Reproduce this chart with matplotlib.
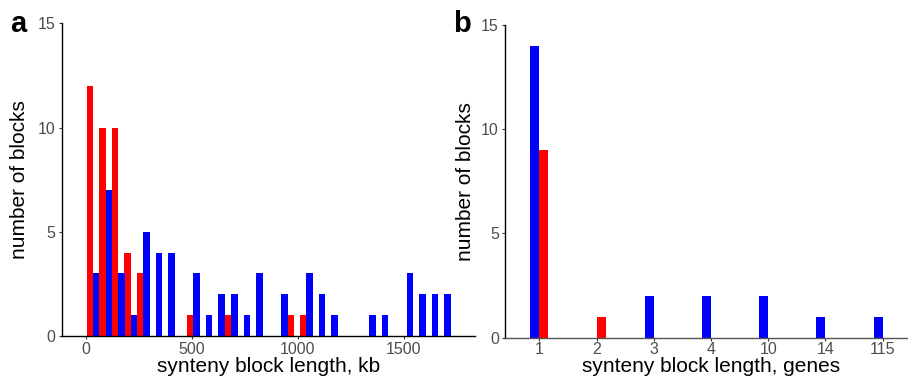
import matplotlib
matplotlib.use("Agg")
import matplotlib.pyplot as plt
import numpy as np

plt.rcParams['font.family'] = ['Liberation Sans', 'DejaVu Sans']

# ---- Panel a data (histogram bins, kb) ----
bin_centers_kb = [31.7, 91.0, 150.3, 209.6, 268.9, 328.2, 387.5, 446.8, 506.1, 565.4,
                  624.7, 684.0, 743.3, 802.6, 861.9, 921.2, 980.5, 1039.8, 1099.1, 1158.4,
                  1217.7, 1277.0, 1336.3, 1395.6, 1454.9, 1514.2, 1573.5, 1632.8, 1692.1]
bin_width_kb = 59.3
red_counts_a = [12, 10, 10, 4, 3, 0, 0, 0, 1, 0, 0, 1, 0, 0, 0, 0, 1, 1, 0, 0, 0, 0, 0, 0, 0, 0, 0, 0, 0]
blue_counts_a = [3, 7, 3, 1, 5, 4, 4, 0, 3, 1, 2, 2, 1, 3, 0, 2, 0, 3, 2, 1, 0, 0, 1, 1, 0, 3, 2, 2, 2]
xticks_a = [0, 500, 1000, 1500]
yticks = [0, 5, 10, 15]

# ---- Panel b data (genes) ----
categories_b = ['1', '2', '3', '4', '10', '14', '115']
blue_counts_b = [14, 0, 2, 2, 2, 1, 1]
red_counts_b = [9, 1, 0, 0, 0, 0, 0]

RED = '#FF0000'
BLUE = '#0000FF'
TICK_GRAY = '#4D4D4D'

W, H = 908, 378
fig = plt.figure(figsize=(W / 100, H / 100), dpi=100)

def fig_rect(x0, y0, x1, y1):
    return [x0 / W, 1 - y1 / H, (x1 - x0) / W, (y1 - y0) / H]

# Panel a
axa = fig.add_axes(fig_rect(61.7, 23.3, 475, 336))
half = bin_width_kb / 2
xc = np.array(bin_centers_kb)
axa.bar(xc - half, red_counts_a, width=half * 1.04, align='edge', color=RED, linewidth=0)
axa.bar(xc, blue_counts_a, width=half * 1.04, align='edge', color=BLUE, linewidth=0)
axa.set_xlim(-116, 1837)
axa.set_ylim(0, 15)
axa.set_xticks(xticks_a)
axa.set_yticks(yticks)
axa.set_xlabel('synteny block length, kb', fontsize=15, labelpad=-0.5)
axa.set_ylabel('number of blocks', fontsize=15, labelpad=6)

# Panel b
axb = fig.add_axes(fig_rect(505, 25, 917, 337.5))
pos = np.arange(len(categories_b))
bw = 0.157
axb.bar(pos - bw, blue_counts_b, width=bw, align='edge', color=BLUE, linewidth=0)
axb.bar(pos, red_counts_b, width=bw, align='edge', color=RED, linewidth=0)
axb.set_xlim(-0.6, len(categories_b) - 0.4)
axb.set_ylim(0, 15)
axb.set_xticks(pos)
axb.set_xticklabels(categories_b)
axb.set_yticks(yticks)
axb.set_xlabel('synteny block length, genes', fontsize=15, labelpad=-0.5)
axb.set_ylabel('number of blocks', fontsize=15, labelpad=4)

for ax in (axa, axb):
    ax.spines['top'].set_visible(False)
    ax.spines['right'].set_visible(False)
    ax.spines['left'].set_linewidth(1.0)
    ax.spines['bottom'].set_linewidth(1.0)
    ax.tick_params(axis='both', length=2.5, width=0.8, color='#333333',
                   labelsize=11.5, labelcolor=TICK_GRAY, pad=2)
axb.tick_params(axis='x', pad=1)
axb.spines['bottom'].set_color('#555555')

fig.text(10 / W, 1 - 32 / H, 'a', fontsize=21, fontweight='bold', ha='left', va='baseline')
fig.text(453 / W, 1 - 32 / H, 'b', fontsize=21, fontweight='bold', ha='left', va='baseline')

fig.savefig('out.png', dpi=100)
